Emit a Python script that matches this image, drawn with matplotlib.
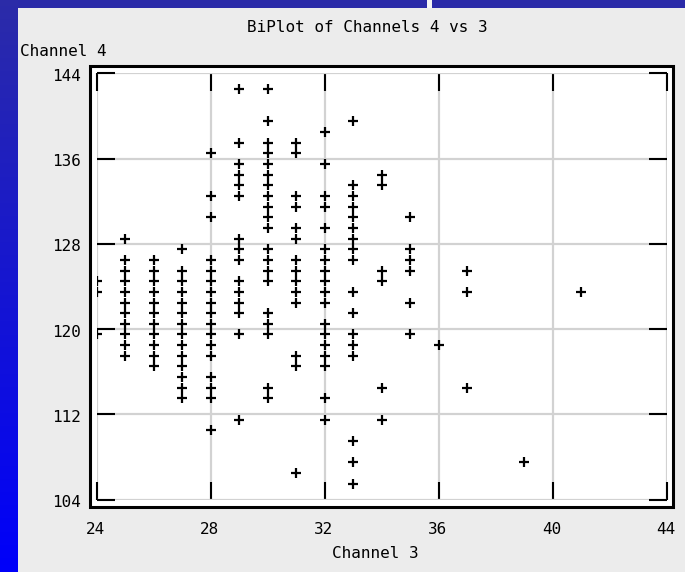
import numpy as np
import matplotlib
matplotlib.use("Agg")
import matplotlib.pyplot as plt
from matplotlib.patches import Rectangle
from matplotlib import transforms

# ---- data (Channel 3 value -> list of Channel 4 values) ----
ch3_24 = [124, 123, 119]
ch3_25 = [128, 126, 125, 124, 123, 122, 121, 120, 119, 118, 117]
ch3_26 = [126, 125, 124, 123, 122, 121, 120, 119, 118, 117, 116]
ch3_27 = [127, 125, 124, 123, 122, 121, 120, 119, 118, 117, 116, 115, 114, 113]
ch3_28 = [136, 132, 130, 126, 125, 124, 123, 122, 121, 120, 119, 118, 117, 115, 114, 113, 110]
ch3_29 = [142, 137, 135, 134, 133, 132, 128, 127, 126, 124, 123, 122, 121, 119, 111]
ch3_30 = [142, 139, 137, 136, 135, 134, 133, 132, 131, 130, 129, 127, 126, 125, 124, 121, 120, 119, 114, 113]
ch3_31 = [137, 136, 132, 131, 129, 128, 126, 125, 124, 123, 122, 117, 116, 106]
ch3_32 = [138, 135, 132, 131, 129, 127, 126, 125, 124, 123, 122, 120, 119, 118, 117, 116, 113, 111]
ch3_33 = [139, 133, 132, 131, 130, 129, 128, 127, 126, 123, 121, 119, 118, 117, 109, 107, 105]
ch3_34 = [134, 133, 125, 124, 114, 111]
ch3_35 = [130, 127, 126, 125, 122, 119]
ch3_36 = [118]
ch3_37 = [125, 123, 114]
ch3_39 = [107]
ch3_41 = [123]

columns = {24: ch3_24, 25: ch3_25, 26: ch3_26, 27: ch3_27, 28: ch3_28, 29: ch3_29,
           30: ch3_30, 31: ch3_31, 32: ch3_32, 33: ch3_33, 34: ch3_34, 35: ch3_35,
           36: ch3_36, 37: ch3_37, 39: ch3_39, 41: ch3_41}

x_ticks = [24, 28, 32, 36, 40, 44]
y_ticks = [104, 112, 120, 128, 136, 144]
title = "BiPlot of Channels 4 vs 3"
xlabel = "Channel 3"
ylabel = "Channel 4"

x_vals = []
y_vals = []
for k, vals in columns.items():
    x_vals += [k] * len(vals)
    y_vals += vals

W, H = 685, 572
fig = plt.figure(figsize=(W / 100, H / 100), dpi=100)
fig.patch.set_facecolor("#ececec")

def px_rect(x0, y0, x1, y1, **kw):
    # pixel coords (top-left origin) -> figure fraction
    r = Rectangle((x0 / W, 1 - y1 / H), (x1 - x0) / W, (y1 - y0) / H,
                  transform=fig.transFigure, **kw)
    fig.add_artist(r)
    return r

# blue border strips
px_rect(0, 0, W, 7.5, facecolor="#2a2aa8", edgecolor="none", zorder=0)
px_rect(427, 0, 432, 7.5, facecolor="#f4f4f4", edgecolor="none", zorder=1)
gax = fig.add_axes([0, 0, 17.5 / W, 1])
grad = np.linspace(0, 1, 256)[:, None]
c0 = np.array([0.17, 0.17, 0.66])
c1 = np.array([0.0, 0.0, 0.98])
img = (c0[None, None, :] * (1 - grad[..., None]) + c1[None, None, :] * grad[..., None])
gax.imshow(img, aspect="auto", extent=[0, 1, 1, 0])
gax.set_axis_off()

# white frame with black border
px_rect(90, 66, 672.8, 506.7, facecolor="white", edgecolor="black", linewidth=2.2, zorder=1)

# main axes
L, R, T, B = 96.7, 666.7, 73.5, 499.5
ax = fig.add_axes([L / W, 1 - B / H, (R - L) / W, (B - T) / H])
ax.set_facecolor("white")
ax.set_zorder(2)

off = transforms.offset_copy(ax.transData, fig=fig, x=0, y=5.3, units="dots")
ax.plot(x_vals, y_vals, linestyle="none", marker="+", color="black",
        markersize=7.5, markeredgewidth=1.6, transform=off, clip_on=True, zorder=3)

ax.set_xlim(24, 44)
ax.set_ylim(104, 144)
ax.set_xticks(x_ticks)
ax.set_yticks(y_ticks)
ax.set_xticklabels([])
ax.set_yticklabels([])
ax.grid(True, color="#d2d2d2", linewidth=1.6, zorder=1)
ax.set_axisbelow(True)
for s in ax.spines.values():
    s.set_visible(False)
ax.tick_params(direction="in", length=13, width=1.5, color="black",
               top=True, right=True, bottom=True, left=True)

font = dict(family="DejaVu Sans Mono", fontsize=11.5, color="black")

def px_text(x, y, s, ha="center", va="center", **kw):
    fig.text(x / W, 1 - y / H, s, ha=ha, va=va, **font, **kw)

# tick labels
for xt in x_ticks:
    xp = L + (xt - 24) / 20 * (R - L)
    px_text(xp - 1, 530, str(xt))
for yt in y_ticks:
    yp = B - (yt - 104) / 40 * (B - T)
    px_text(81, yp + 3, str(yt), ha="right")

px_text(367, 27, title)
px_text(20, 52, ylabel, ha="left")
px_text(375, 553, xlabel)

fig.savefig("out.png", dpi=100, facecolor=fig.get_facecolor())
